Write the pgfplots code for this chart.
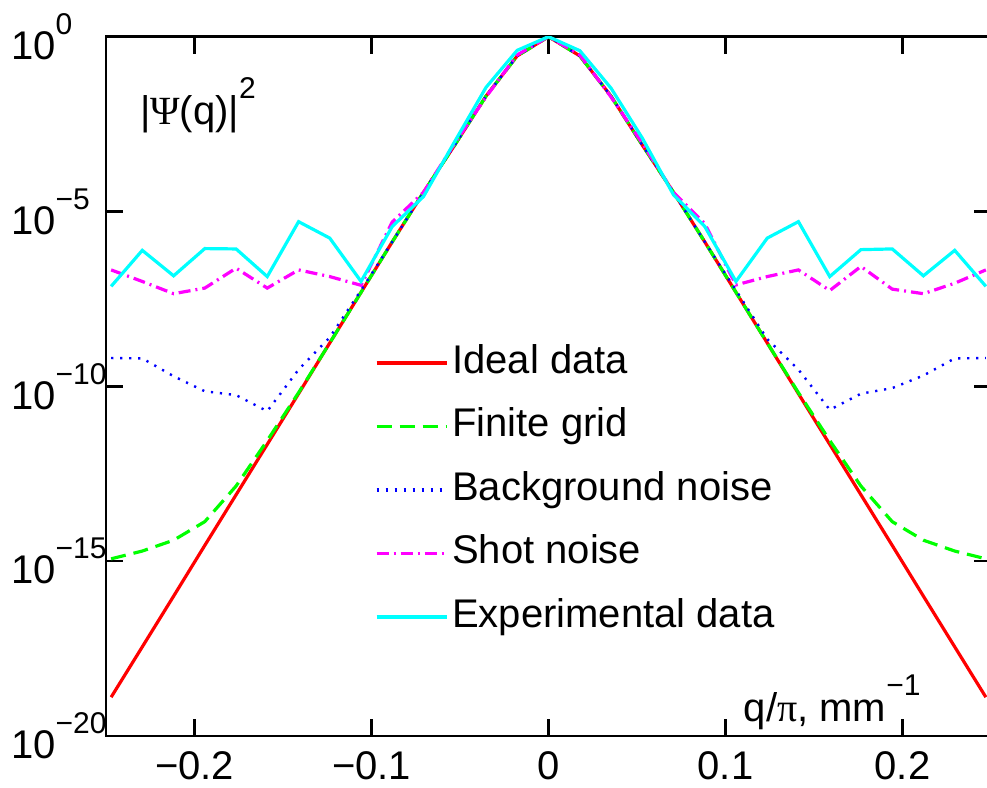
\documentclass[border=0pt]{standalone}
\usepackage{fontspec}
\setmainfont{Liberation Sans}
\newfontfamily\symf{Liberation Serif}
\usepackage{pgfplots}
\pgfplotsset{compat=1.18}

\newcommand{\basefont}{\fontsize{20}{24}\selectfont}
\newcommand{\supf}{\fontsize{15}{15}\selectfont}
\newcommand{\tl}[1]{\makebox[40pt][l]{10\raisebox{0.62em}{\supf #1}}}

\definecolor{mred}{RGB}{255,0,0}
\definecolor{mgreen}{RGB}{0,255,0}
\definecolor{mblue}{RGB}{0,0,255}
\definecolor{mmag}{RGB}{255,0,255}
\definecolor{mcyan}{RGB}{0,255,255}

\begin{document}
\begin{tikzpicture}
\begin{axis}[
  scale only axis,
  width=442.5pt, height=349.65pt,
  xmin=-0.25, xmax=0.25,
  ymode=log, ymin=1e-20, ymax=1,
  xtick={-0.2,-0.1,0,0.1,0.2},
  xticklabels={−0.2,−0.1,0,0.1,0.2},
  ytick={1e-20,1e-15,1e-10,1e-5,1},
  yticklabels={\tl{−20},\tl{−15},\tl{−10},\tl{−5},\tl{0}},
  yminorticks=false,
  tick align=inside,
  major tick length=8.5pt,
  tick style={black, line width=1.3pt},
  axis line style={black, line width=1.3pt},
  tick label style={font=\basefont},
  xticklabel style={inner sep=0pt, anchor=north, yshift=-7.5pt},
  yticklabel style={inner sep=0pt, anchor=west, xshift=-47.6pt},
  every axis plot/.append style={line width=1.6pt},
  legend style={draw=none, fill=none, at={(0.304,0.5605)}, anchor=north west,
    inner sep=0pt, outer sep=0pt, row sep=12.75pt, font=\basefont,
    nodes={inner sep=0pt, inner xsep=2pt, text height=14.5pt, text depth=4.5pt}},
  legend cell align=left,
  legend image code/.code={\draw[line width=1.6pt,#1] (0pt,0pt) -- (35pt,0pt);},
]
% Ideal data
\addplot[mred] coordinates {
(-0.2471,1.29e-19) (-0.2295,3.55e-18) (-0.2118,1.0e-16) (-0.1942,2.82e-15)
(-0.1765,7.94e-14) (-0.1589,2.19e-12) (-0.1412,6.17e-11) (-0.1236,1.74e-9)
(-0.1059,4.9e-8) (-0.0883,1.35e-6) (-0.0706,3.55e-5) (-0.0530,7.94e-4)
(-0.0353,2.0e-2) (-0.0177,0.282) (0,1)
(0.0177,0.282) (0.0353,2.0e-2) (0.0530,7.94e-4) (0.0706,3.55e-5)
(0.0883,1.35e-6) (0.1059,4.9e-8) (0.1236,1.74e-9) (0.1412,6.17e-11)
(0.1589,2.19e-12) (0.1765,7.94e-14) (0.1942,2.82e-15) (0.2118,1.0e-16)
(0.2295,3.55e-18) (0.2471,1.29e-19)
};
% Finite grid
\addplot[mgreen, dash pattern=on 7.5pt off 4pt] coordinates {
(-0.2471,1.17e-15) (-0.2295,1.95e-15) (-0.2118,3.98e-15) (-0.1942,1.35e-14)
(-0.1765,1.41e-13) (-0.1589,2.82e-12) (-0.1412,6.6e-11) (-0.1236,1.74e-9)
(-0.1059,4.9e-8) (-0.0883,1.35e-6) (-0.0706,3.55e-5) (-0.0530,7.94e-4)
(-0.0353,2.0e-2) (-0.0177,0.282) (0,1)
(0.0177,0.282) (0.0353,2.0e-2) (0.0530,7.94e-4) (0.0706,3.55e-5)
(0.0883,1.35e-6) (0.1059,4.9e-8) (0.1236,1.74e-9) (0.1412,6.6e-11)
(0.1589,2.82e-12) (0.1765,1.41e-13) (0.1942,1.35e-14) (0.2118,3.98e-15)
(0.2295,1.95e-15) (0.2471,1.17e-15)
};
% Background noise
\addplot[mblue, line width=1.2pt, dash pattern=on 1.1pt off 3.4pt] coordinates {
(-0.2471,6.46e-10) (-0.2295,6.31e-10) (-0.2118,1.95e-10) (-0.1942,7.24e-11)
(-0.1765,5.62e-11) (-0.1589,1.95e-11) (-0.1412,3.02e-10) (-0.1236,2.51e-9)
(-0.1059,5.62e-8) (-0.0883,1.35e-6) (-0.0706,3.55e-5) (-0.0530,7.94e-4)
(-0.0353,2.0e-2) (-0.0177,0.282) (0,1)
(0.0177,0.282) (0.0353,2.0e-2) (0.0530,7.94e-4) (0.0706,3.55e-5)
(0.0883,1.35e-6) (0.1059,5.62e-8) (0.1236,2.24e-9) (0.1412,3.02e-10)
(0.1589,2.14e-11) (0.1765,6.17e-11) (0.1942,8.91e-11) (0.2118,2.04e-10)
(0.2295,6.31e-10) (0.2471,6.46e-10)
};
% Shot noise
\addplot[mmag, dash pattern=on 6pt off 2.5pt on 1pt off 2.5pt] coordinates {
(-0.2471,2.14e-7) (-0.2295,1.0e-7) (-0.2118,4.47e-8) (-0.1942,6.46e-8)
(-0.1765,2.4e-7) (-0.1589,6.46e-8) (-0.1412,2.14e-7) (-0.1236,1.38e-7)
(-0.1059,7.76e-8) (-0.0883,5.01e-6) (-0.0706,3.55e-5) (-0.0530,8.9e-4)
(-0.0353,1.9e-2) (-0.0177,0.302) (0,1)
(0.0177,0.302) (0.0353,1.9e-2) (0.0530,8.9e-4) (0.0706,3.55e-5)
(0.0883,4.47e-6) (0.1059,7.94e-8) (0.1236,1.38e-7) (0.1412,2.14e-7)
(0.1589,5.5e-8) (0.1765,2.69e-7) (0.1942,6.03e-8) (0.2118,4.47e-8)
(0.2295,8.9e-8) (0.2471,2.14e-7)
};
% Experimental data
\addplot[mcyan] coordinates {
(-0.2471,7.24e-8) (-0.2295,7.76e-7) (-0.2118,1.45e-7) (-0.1942,8.71e-7)
(-0.1765,8.51e-7) (-0.1589,1.38e-7) (-0.1412,5.13e-6) (-0.1236,1.74e-6)
(-0.1059,1.0e-7) (-0.0883,3.72e-6) (-0.0706,2.69e-5) (-0.0530,1.0e-3)
(-0.0353,3.55e-2) (-0.0177,0.407) (0,1)
(0.0177,0.398) (0.0353,3.39e-2) (0.0530,1.26e-3) (0.0706,3.02e-5)
(0.0883,3.72e-6) (0.1059,1.0e-7) (0.1236,1.74e-6) (0.1412,5.13e-6)
(0.1589,1.38e-7) (0.1765,8.13e-7) (0.1942,8.51e-7) (0.2118,1.45e-7)
(0.2295,7.76e-7) (0.2471,7.24e-8)
};
\legend{Ideal data, Finite grid, Background noise, Shot noise, Experimental data}
\node[anchor=base west, inner sep=0pt, font=\basefont] at (rel axis cs:0.038,0.875)
  {|{\symf Ψ}(q)|\raisebox{0.64em}{\supf 2}};
\node[anchor=base west, inner sep=0pt, font=\basefont] at (rel axis cs:0.7203,0.0214)
  {q/{\symf π}, mm\raisebox{0.64em}{\supf −1}};
\end{axis}
\pgfresetboundingbox
\path[use as bounding box] ([xshift=-53pt,yshift=-25.5pt]current axis.south west)
  rectangle ([xshift=-2pt,yshift=18.35pt]current axis.north east);
\end{tikzpicture}
\end{document}
